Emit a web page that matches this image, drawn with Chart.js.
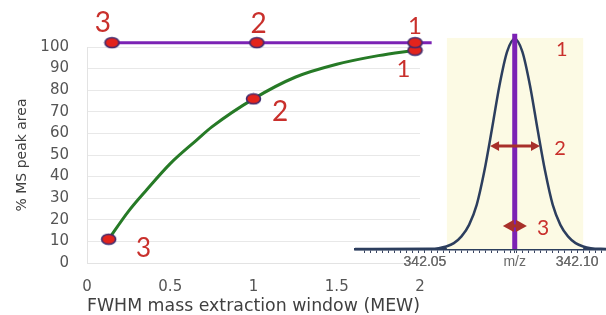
<!DOCTYPE html>
<html>
<head>
<meta charset="utf-8">
<script src="https://cdn.jsdelivr.net/npm/chart.js@4/dist/chart.umd.min.js"></script>
<style>
  html, body { margin: 0; padding: 0; background: #ffffff; }
  #wrap { position: relative; width: 606px; height: 315px; }
  canvas { position: absolute; left: 0; top: 0; }
</style>
</head>
<body>
<div id="wrap">
  <canvas id="main" width="606" height="315"></canvas>
  <canvas id="inset" width="606" height="315"></canvas>
</div>
<script>
// ---- Main chart data ----
const mewX = [0.13, 0.25, 0.36, 0.5, 0.66, 0.75, 1.0, 1.25, 1.5, 1.75, 1.97];
const peakAreaPct = [11, 24, 34, 46, 57, 63, 76, 86, 92, 96, 98.5];
const peakAreaMarked = [0, 6, 10];
const purpleX = [0.15, 1.02, 1.97, 2.07];
const purpleY = [102, 102, 102, 102];
const purpleMarked = [0, 1, 2];
const xTickValues = [0, 0.5, 1, 1.5, 2];
const yTickValues = [0, 10, 20, 30, 40, 50, 60, 70, 80, 90, 100];

// ---- Inset (mass spectrum peak) data ----
const mzValues = [342.0270, 342.0520, 342.0545, 342.0570, 342.0595, 342.0620, 342.0645, 342.0670, 342.0695,
                  342.0720, 342.0745, 342.0770, 342.0795, 342.0820, 342.0845, 342.0870, 342.0895,
                  342.0920, 342.0945, 342.0970, 342.0995, 342.1020, 342.1045, 342.1095];
const intensity = [0, 0.1, 0.4, 1.2, 2.8, 6, 11.5, 21, 37, 57, 78, 94, 100, 94, 78, 57, 37, 21, 11.5, 6, 2.8, 1.2, 0.4, 0];
const centroidMz = 342.0795;
const mzTickLabels = { '342.05': '342.05', '342.0795': 'm/z', '342.1': '342.10' };

const RED = '#C9302C';
const PURPLE = '#7B22B4';

function makeMarker() {
  const c = document.createElement('canvas');
  c.width = 17; c.height = 13;
  const g = c.getContext('2d');
  g.beginPath();
  g.ellipse(8.5, 6.5, 7, 5, 0, 0, Math.PI * 2);
  g.fillStyle = '#E3231C';
  g.fill();
  g.lineWidth = 1.6;
  g.strokeStyle = '#3E2A6E';
  g.stroke();
  return c;
}
const marker = makeMarker();

// text annotations (data coordinates of each chart)
const mainNotes = [
  { t: '3', x: 0.096, y: 111, size: 28 },
  { t: '2', x: 1.03, y: 110.6, size: 28 },
  { t: '1', x: 1.97, y: 109.7, size: 24 },
  { t: '1', x: 1.90, y: 89.8, size: 24 },
  { t: '2', x: 1.16, y: 69.9, size: 28 },
  { t: '3', x: 0.34, y: 6.5, size: 26 }
];
const insetNotes = [
  { t: '1', x: 342.095, y: 94.8, size: 20 },
  { t: '2', x: 342.0944, y: 47.6, size: 20 },
  { t: '3', x: 342.0888, y: 10, size: 21 }
];

const notesPlugin = {
  id: 'notes',
  afterDatasetsDraw(chart, args, opts) {
    const ctx = chart.ctx;
    const xs = chart.scales.x, ys = chart.scales.y;
    ctx.save();
    ctx.fillStyle = RED;
    ctx.textAlign = 'center';
    ctx.textBaseline = 'middle';
    (opts.notes || []).forEach(n => {
      ctx.font = n.size + 'px Lato, "Open Sans", sans-serif';
      ctx.fillText(n.t, xs.getPixelForValue(n.x), ys.getPixelForValue(n.y));
    });
    ctx.restore();
  }
};

const mainChart = new Chart(document.getElementById('main'), {
  type: 'line',
  data: {
    datasets: [
      {
        data: purpleX.map((x, i) => ({ x, y: purpleY[i] })),
        borderColor: PURPLE,
        borderWidth: 3,
        pointStyle: marker,
        pointRadius: purpleX.map((x, i) => purpleMarked.includes(i) ? 6 : 0),
        clip: false
      },
      {
        data: mewX.map((x, i) => ({ x, y: peakAreaPct[i] })),
        borderColor: '#267A26',
        borderWidth: 3,
        cubicInterpolationMode: 'monotone',
        pointStyle: marker,
        pointRadius: mewX.map((x, i) => peakAreaMarked.includes(i) ? 6 : 0),
        clip: false
      }
    ]
  },
  plugins: [notesPlugin],
  options: {
    responsive: false,
    animation: false,
    events: [],
    layout: { padding: { top: 47, right: 186, left: 0, bottom: 0 } },
    plugins: {
      legend: { display: false },
      tooltip: { enabled: false },
      notes: { notes: mainNotes }
    },
    scales: {
      x: {
        type: 'linear',
        min: 0, max: 2,
        afterBuildTicks: s => { s.ticks = xTickValues.map(v => ({ value: v })); },
        afterFit: s => { s.height = 52; },
        grid: { display: false },
        border: { display: true, color: '#E3E3E3', width: 1 },
        ticks: {
          color: '#555555',
          padding: 7,
          font: { family: '"DejaVu Sans"', size: 15 },
          callback: v => String(v)
        },
        title: {
          display: true,
          align: 'start',
          text: 'FWHM mass extraction window (MEW)',
          color: '#404040',
          font: { family: '"DejaVu Sans"', size: 18.5, lineHeight: 1 },
          padding: { top: 0, bottom: 0 }
        }
      },
      y: {
        type: 'linear',
        min: 0, max: 100,
        afterBuildTicks: s => { s.ticks = yTickValues.map(v => ({ value: v })); },
        afterFit: s => { s.width = 87; },
        grid: { color: '#E8E8E8', lineWidth: 1, drawTicks: false },
        border: { display: true, color: '#E3E3E3', width: 1 },
        ticks: {
          color: '#555555',
          padding: 18,
          font: { family: '"DejaVu Sans"', size: 15 }
        },
        title: {
          display: true,
          text: '% MS peak area',
          color: '#404040',
          font: { family: '"DejaVu Sans"', size: 14 },
          padding: { top: 14, bottom: 0 }
        }
      }
    }
  }
});

// ---- Inset chart ----
const insetDecor = {
  id: 'insetDecor',
  beforeDatasetsDraw(chart) {
    const ctx = chart.ctx, xs = chart.scales.x, ys = chart.scales.y;
    ctx.save();
    ctx.fillStyle = '#FCFAE4';
    const x0 = xs.getPixelForValue(342.0572), x1 = xs.getPixelForValue(342.102);
    const y0 = ys.getPixelForValue(100.5), y1 = ys.getPixelForValue(0);
    ctx.fillRect(x0, y0, x1 - x0, y1 - y0);
    ctx.restore();
  },
  afterDatasetsDraw(chart) {
    const ctx = chart.ctx, xs = chart.scales.x, ys = chart.scales.y;
    function arrow(mz0, mz1, yv, lw, head) {
      const a = xs.getPixelForValue(mz0), b = xs.getPixelForValue(mz1), y = ys.getPixelForValue(yv);
      ctx.save();
      ctx.strokeStyle = '#A8302A';
      ctx.fillStyle = '#A8302A';
      ctx.lineWidth = lw;
      ctx.beginPath();
      ctx.moveTo(a + head * 0.8, y); ctx.lineTo(b - head * 0.8, y); ctx.stroke();
      ctx.beginPath();
      ctx.moveTo(a, y); ctx.lineTo(a + head, y - head * 0.55); ctx.lineTo(a + head, y + head * 0.55); ctx.closePath(); ctx.fill();
      ctx.beginPath();
      ctx.moveTo(b, y); ctx.lineTo(b - head, y - head * 0.55); ctx.lineTo(b - head, y + head * 0.55); ctx.closePath(); ctx.fill();
      ctx.restore();
    }
    arrow(342.0714, 342.0878, 49, 3, 9);
    arrow(342.0756, 342.0835, 11, 3, 11);
  }
};

const insetChart = new Chart(document.getElementById('inset'), {
  type: 'line',
  data: {
    datasets: [
      {
        data: [{ x: centroidMz, y: 0 }, { x: centroidMz, y: 102.5 }],
        borderColor: PURPLE,
        borderWidth: 5,
        pointRadius: 0,
        clip: false
      },
      {
        data: mzValues.map((x, i) => ({ x, y: intensity[i] })),
        borderColor: '#2C3E5E',
        borderWidth: 2.5,
        cubicInterpolationMode: 'monotone',
        pointRadius: 0,
        clip: false
      }
    ]
  },
  plugins: [insetDecor, notesPlugin],
  options: {
    responsive: false,
    animation: false,
    events: [],
    layout: { padding: { top: 39, right: 0, left: 355, bottom: 0 } },
    plugins: {
      legend: { display: false },
      tooltip: { enabled: false },
      notes: { notes: insetNotes }
    },
    scales: {
      x: {
        type: 'linear',
        min: 342.027, max: 342.1095,
        afterBuildTicks: s => {
          const t = [];
          for (let k = 0; k <= 40; k++) {
            const v = Math.round((342.030 + k * 0.002) * 10000) / 10000;
            if (v <= 342.108) t.push({ value: v });
          }
          t.push({ value: 342.05 }, { value: 342.1 }, { value: centroidMz });
          s.ticks = t;
        },
        afterFit: s => { s.height = 66; },
        grid: { drawOnChartArea: false, color: '#3A4560', tickLength: 4, tickWidth: 1 },
        border: { display: true, color: '#2C3E5E', width: 2.5 },
        ticks: {
          autoSkip: false,
          maxRotation: 0,
          color: '#6A6A6A',
          padding: 1,
          font: { family: '"Liberation Sans"', size: 14 },
          callback: v => mzTickLabels[String(Math.round(v * 10000) / 10000)] || ''
        }
      },
      y: {
        display: false,
        min: 0, max: 100
      }
    }
  }
});
</script>
</body>
</html>
